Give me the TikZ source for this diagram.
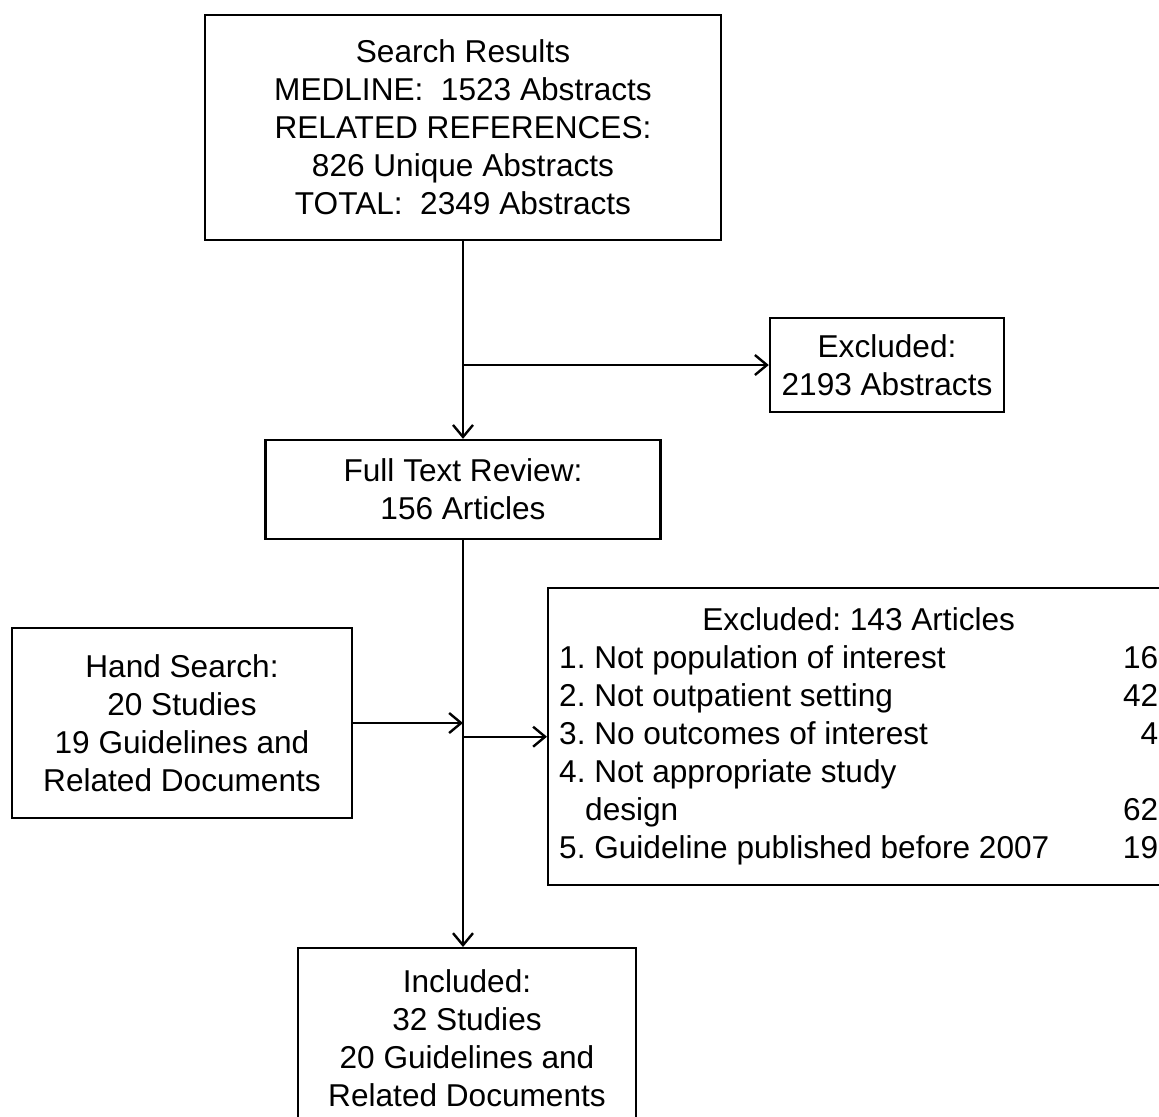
\documentclass[tikz,border=0pt]{standalone}
\usepackage{fontspec}
\setmainfont{Liberation Sans}
\frenchspacing
\usetikzlibrary{arrows.meta}
\tikzset{
  box/.style={draw,line width=1.2pt,inner sep=0pt,align=center,font=\fontsize{15.8}{19}\selectfont},
  arr/.style={line width=1.2pt,-{Straight Barb[length=6pt,width=10pt,line width=1.2pt]}}
}
\begin{document}
\begin{tikzpicture}[x=0.5pt,y=-0.5pt]
  \useasboundingbox (0,0) rectangle (1159,1116);
  \clip (0,0) rectangle (1159,1116);
  \node(search)[box,minimum width=258pt,minimum height=112.5pt] at (463,127.5){Search Results\\MEDLINE:~ 1523 Abstracts\\RELATED REFERENCES:\\826 Unique Abstracts\\TOTAL:~ 2349 Abstracts};
  \node(excl1)[box,minimum width=117pt,minimum height=47pt] at (887,365){Excluded:\\2193 Abstracts};
  \node(full)[box,minimum width=197.5pt,minimum height=49.5pt] at (463,489.5){Full Text Review:\\156 Articles};
  \node(hand)[box,minimum width=170pt,minimum height=95pt] at (182,723){Hand Search:\\20 Studies\\19 Guidelines and\\Related Documents};
  \node(excl2)[box,anchor=north west,minimum height=148.5pt,inner xsep=5.5pt] at (547,587){%
    \begin{tabular*}{299.5pt}{@{}l@{\extracolsep{\fill}}r@{}}
      \multicolumn{2}{@{}c@{}}{Excluded: 143 Articles}\\
      1. Not population of interest & 16\\
      2. Not outpatient setting & 42\\
      3. No outcomes of interest & 4\\
      4. Not appropriate study & \\
      \hspace*{13pt}design & 62\\
      5. Guideline published before 2007 & 19
    \end{tabular*}};
  \node(incl)[box,anchor=north,minimum width=169pt,minimum height=90pt] at (467,947){Included:\\32 Studies\\20 Guidelines and\\Related Documents};
  % connectors
  \draw[arr] (search) -- (full);
  \draw[arr] (search.south |- excl1.west) -- (excl1);
  \draw[arr] (full) -- (full |- incl.north);
  \draw[arr] (hand) -- (hand -| full);
  \draw[arr] (excl2.west -| full) -- (excl2);
\end{tikzpicture}
\end{document}
